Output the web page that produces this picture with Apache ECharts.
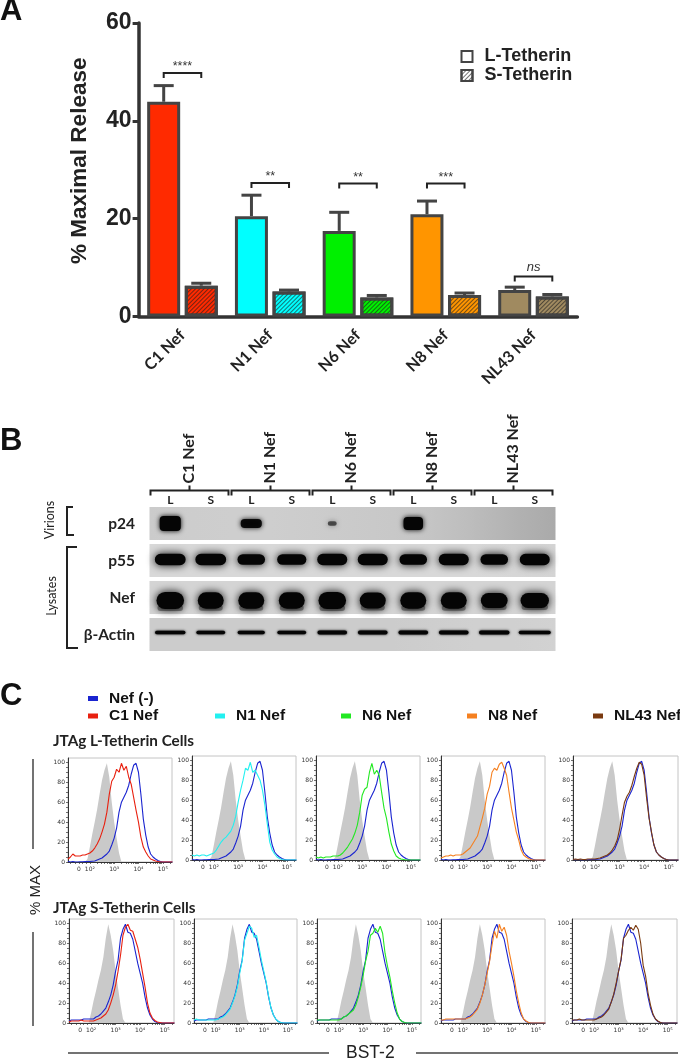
<!DOCTYPE html>
<html><head><meta charset="utf-8">
<style>html,body{margin:0;padding:0;background:#fff}#c{width:680px;height:1059px}</style>
<script src="https://cdn.jsdelivr.net/npm/echarts@6/dist/echarts.min.js"></script>
</head><body><div id="c"></div>
<script>
// ---------- Panel A data ----------
const nefNames = ['C1 Nef','N1 Nef','N6 Nef','N8 Nef','NL43 Nef'];
const barColors = ['#ff2a00','#00ffff','#00f000','#ff9500','#a08a60'];
const lMeans = [43.9,20.5,17.5,20.9,5.4];
const lUpper = [47.2,24.8,21.3,23.6,6.0];
const sMeans = [6.3,5.1,3.9,4.4,4.1];
const sUpper = [6.8,5.4,4.3,4.8,4.5];
const sigLabels = ['****','**','**','***','ns'];
const sigHeights = [49.8,27.3,27.2,27.2,8.2];
const yTicksA = [0,20,40,60];

// ---------- Panel B data ----------
const laneLabels = ['L','S','L','S','L','S','L','S','L','S'];
const blotRows = ['p24','p55','Nef','β-Actin'];
const blotBackground = [
  [203,205,206,206,204,202,200,196,188,178,170],
  [216,216,216,216,216,216,216,216,216,214,212],
  [212,212,212,212,212,212,212,212,212,212,212],
  [204,204,204,204,204,204,204,206,208,208,210]];
const bandIntensity = [
  [1,0,0.95,0,0.6,0,1,0,0,0],
  [1,1,1,1,1,1,1,1,1,1],
  [1,1,1,1,1,1,1,1,1,1],
  [1,1,1,1,1,1,1,1,1,1]];
const bandWidths = [
  [0.62,0,0.62,0,0.32,0,0.58,0,0,0],
  [0.86,0.86,0.78,0.82,0.84,0.84,0.78,0.84,0.78,0.84],
  [0.78,0.74,0.74,0.74,0.78,0.74,0.74,0.74,0.76,0.80],
  [0.80,0.76,0.72,0.76,0.78,0.78,0.78,0.78,0.80,0.84]];
const bandHeights = [
  [0.46,0,0.30,0,0.18,0,0.40,0,0,0],
  [0.36,0.36,0.34,0.34,0.36,0.36,0.34,0.36,0.34,0.36],
  [0.52,0.50,0.50,0.50,0.52,0.48,0.50,0.50,0.46,0.46],
  [0.12,0.12,0.12,0.12,0.14,0.13,0.13,0.13,0.13,0.12]];
const rowBandShift = [0,-1,3,-2];

// ---------- Panel C data ----------
const logBins = [1.1,1.2,1.3,1.4,1.5,1.6,1.7,1.8,1.9,2.0,2.1,2.2,2.3,2.4,2.5,2.6,2.7,2.8,2.9,3.0,3.1,3.2,3.3,3.4,3.5,3.6,3.7,3.8,3.9,4.0,4.1,4.2,4.3,4.4,4.5,4.6,4.7,4.8,4.9,5.0,5.1,5.2,5.3,5.4];
const grayL = [0,0,0,0,0,0,0,0,3, 15,28,40,53,68,82,92,99,85,60,40,24,9,0,0,0,0,0,0,0,0,0,0,0,0,0,0,0,0,0,0,0, 0,0,0];
const grayS = [0,0,0,0,0,0,0,0,0, 10,22,32,43,53,66,85,99,88,73,52,35,18,4,0,0,0,0,0,0,0,0,0,0,0,0,0,0,0,0,0,0, 0,0,0];
const blueL = [0.5,0,0.5,0,0,0.3,0.3,0.4,0.5, 0.5,0.8,1,2,3,4,6,8,11,17,24,34,50,60,65,70,77,88,97,99,90,68,43,27,15,8,5,3,1.5,0.5,0,0, 0,0,0];
const redL  = [3,5,8,6,6,6,7,7,8, 9,11,14,18,23,30,38,50,68,81,85,93,90,99,92,96,85,78,65,52,40,25,15,10,6,3,2,1,0.5,0,0,0, 0,0,0];
const cyanL = [5,4,5,4,5,5,4,5,6, 7,10,14,18,21,23,26,29,35,44,58,70,80,92,90,98,88,90,85,80,70,55,36,18,10,6,3,1.5,0.5,0,0,0, 0,0,0];
const greenL= [3,2,3,2,3,3,3,4,4, 4,5,7,10,13,17,21,27,35,48,65,71,73,88,97,86,90,85,68,52,42,28,16,9,4,2,1,0.5,0,0,0,0, 0,0,0];
const orangeL=[2,3,4,4,5,4,5,5,5, 6,8,10,12,16,20,24,33,42,52,66,74,88,92,90,96,98,92,85,68,52,40,28,20,10,5,3,1.5,0.5,0,0,0, 0,0,0];
const brownL= [0.5,1,0.5,1,0.5,0.5,1,1,1, 1,1.5,2,3,4,5,7,10,14,20,31,45,58,64,68,75,84,92,98,96,85,62,42,28,15,8,5,3,1.5,0.5,0,0, 0,0,0];
const blueS = [2,3,3,3,3,3,4,4,4, 4,4,6,7,9,12,15,21,28,38,52,63,85,94,99,91,90,84,72,60,50,40,26,15,8,4,1.5,0.5,0,0,0,0, 0,0,0];
const redS  = [1,2,2,2,2,3,2,2,2, 2,2,3,4,5,7,9,13,20,28,38,52,68,88,96,99,93,92,84,76,64,50,36,20,10,5,2.5,1,0.5,0,0,0, 0,0,0];
const cyanS = [3,4,3,3,3,3,3,3,3, 3,4,5,6,8,11,14,20,27,36,50,62,83,90,97,95,86,88,76,63,52,41,27,15,8,4,1.5,0.5,0,0,0,0, 0,0,0];
const greenS= [3,3,3,3,3,3,3,3,3, 3,4,6,7,9,11,13,18,26,36,48,62,72,88,90,95,91,97,90,70,57,46,32,20,10,4,1.5,0.5,0,0,0,0, 0,0,0];
const orangeS=[3,3,4,4,4,4,4,4,4, 4,4,5,6,8,11,14,20,28,38,50,62,78,92,85,99,92,96,88,72,60,47,32,20,10,4,2,0.5,0,0,0,0, 0,0,0];
const brownS= [3,3,3,4,3,3,3,3,3, 3,4,5,6,8,11,14,21,29,40,52,64,85,88,93,96,93,98,94,80,58,47,30,18,9,4,2,0.5,0,0,0,0, 0,0,0];
const histNames = ['C1 Nef','N1 Nef','N6 Nef','N8 Nef','NL43 Nef'];
const histColors = ['#e8200f','#22f0f0','#22e822','#f58020','#7a3a10'];
const histRowL = [redL,cyanL,greenL,orangeL,brownL];
const histRowS = [redS,cyanS,greenS,orangeS,brownS];
const histLabelValues = [1.55,2,3,4,5];
const histLabelTexts = {1.55:'0',2:'10²',3:'10³',4:'10⁴',5:'10⁵'};
const histTickValues = [1.2,1.4,1.55,1.7,1.85,2,2.3,2.48,2.6,2.7,2.78,2.85,2.9,2.95,3,3.3,3.48,3.6,3.7,3.78,3.85,3.9,3.95,4,4.3,4.48,4.6,4.7,4.78,4.85,4.9,4.95,5,5.3];
const histYLabels = [0,20,40,60,80,100];
const histYTicks = [0,5,10,15,20,25,30,35,40,45,50,55,60,65,70,75,80,85,90,95,100];

// ---------- layout (not data) ----------
const histBoxesL = [[68,758,104,104],[192,756,104,104],[316,756,104,104],[441,756,104,104],[573,756,105,104]];
const histBoxesS = [[69,919,105,104],[194,919,103,104],[317,919,104,104],[441,919,104,104],[572,919,105,104]];
const blotGrid = {left:150,top:505,width:405,height:148};
const dark = '#444';
const SANS = '"Liberation Sans",Arial,sans-serif';
const CAL = 'Lato,"Open Sans",sans-serif';

const grids = [{left:138.6,top:23,width:438.8,height:293.5}, blotGrid];
const xAxes = [{
  type:'category',gridIndex:0,data:nefNames,
  axisLine:{lineStyle:{color:'#333',width:3.5}},
  axisTick:{alignWithLabel:true,length:7,lineStyle:{color:'#000',width:3}},
  axisLabel:{rotate:45,fontFamily:CAL,fontWeight:'bold',fontSize:16,color:'#222',margin:16,interval:0}
},{
  type:'category',gridIndex:1,position:'top',data:laneLabels,
  axisLine:{show:false},axisTick:{show:false},
  axisLabel:{fontFamily:CAL,fontWeight:'bold',fontSize:12,color:'#222',margin:-1,interval:0}
}];
const yAxes = [{
  type:'value',gridIndex:0,min:0,max:60,interval:20,
  axisLine:{show:true,lineStyle:{color:'#333',width:3.5}},
  axisTick:{show:true,length:6,lineStyle:{color:'#333',width:3}},
  splitLine:{show:false},
  axisLabel:{fontFamily:SANS,fontWeight:'bold',fontSize:23,color:'#222',margin:7,formatter:v=>yTicksA.includes(v)?String(v):''},
  name:'% Maximal Release',nameLocation:'middle',nameGap:47,nameRotate:90,
  nameTextStyle:{fontFamily:SANS,fontWeight:'bold',fontSize:22.5,color:'#222',padding:[0,0,0,18]}
},{
  type:'category',gridIndex:1,inverse:true,data:blotRows,
  axisLine:{show:false},axisTick:{show:false},
  axisLabel:{fontFamily:CAL,fontWeight:'bold',fontSize:15.5,color:'#222',margin:15}
}];

const series = [
  {name:'L-Tetherin',type:'bar',xAxisIndex:0,yAxisIndex:0,barWidth:33,barGap:'14%',z:3,
   itemStyle:{color:'#fff',borderColor:dark,borderWidth:3},
   data:lMeans.map((v,i)=>({value:v,itemStyle:{color:barColors[i],borderColor:dark,borderWidth:3}}))},
  {name:'S-Tetherin',type:'bar',xAxisIndex:0,yAxisIndex:0,barWidth:33,z:3,
   itemStyle:{color:'#fff',borderColor:dark,borderWidth:3,
     decal:{symbol:'rect',symbolSize:1,color:'rgba(30,30,30,0.62)',dashArrayX:[1,0],dashArrayY:[1,1.5],rotation:-Math.PI/4}},
   data:sMeans.map((v,i)=>({value:v,itemStyle:{color:barColors[i],borderColor:dark,borderWidth:3}}))},
  // error bars
  {type:'custom',xAxisIndex:0,yAxisIndex:0,z:2,silent:true,
   data:nefNames.flatMap((n,i)=>[[i,lMeans[i],lUpper[i],-1],[i,sMeans[i],sUpper[i],1]]),
   renderItem(p,api){
     const band=api.size([1,0])[0], off=band*0.214*api.value(3);
     const c=api.coord([api.value(0),api.value(1)]), u=api.coord([api.value(0),api.value(2)]);
     const x=c[0]+off, ls={stroke:dark,lineWidth:3,fill:null};
     return {type:'group',children:[
       {type:'line',shape:{x1:x,y1:c[1],x2:x,y2:u[1]},style:ls},
       {type:'line',shape:{x1:x-10,y1:u[1],x2:x+10,y2:u[1]},style:ls}]};
   }},
  // significance brackets
  {type:'custom',xAxisIndex:0,yAxisIndex:0,z:4,silent:true,
   data:sigHeights.map((h,i)=>[i,h]),
   renderItem(p,api){
     const i=api.value(0), c=api.coord([i,api.value(1)]), band=api.size([1,0])[0], off=band*0.214;
     const l=c[0]-off, r=c[0]+off, y=c[1];
     const ns=sigLabels[i]==='ns';
     return {type:'group',children:[
       {type:'polyline',shape:{points:[[l,y+5],[l,y],[r,y],[r,y+5]]},style:{stroke:'#222',lineWidth:2,fill:null}},
       {type:'text',x:c[0],y:ns?y-9:y-6,style:{text:sigLabels[i],textAlign:'center',textVerticalAlign:'middle',
         font:(ns?'italic 13px ':'12.5px ')+SANS,fill:'#333'}}]};
   }},
  // blot backgrounds
  {type:'custom',xAxisIndex:1,yAxisIndex:1,z:1,silent:true,clip:false,
   data:blotBackground.flatMap((r,ri)=>r.slice(0,10).map((g,li)=>[li,ri,g,r[li+1]])),
   renderItem(p,api){
     const c=api.coord([api.value(0),api.value(1)]), s=api.size([1,1]), g=api.value(2), g2=api.value(3);
     return {type:'rect',shape:{x:c[0]-s[0]/2-0.5,y:c[1]-16.5,width:s[0]+1,height:33},
       style:{fill:new echarts.graphic.LinearGradient(0,0,1,0,[
         {offset:0,color:`rgb(${g},${g},${g})`},{offset:1,color:`rgb(${g2},${g2},${g2})`}])}};
   }},
  // blot bands
  {type:'custom',xAxisIndex:1,yAxisIndex:1,z:2,silent:true,
   data:bandIntensity.flatMap((r,ri)=>r.map((a,li)=>[li,ri,a,bandWidths[ri][li],bandHeights[ri][li]])).filter(d=>d[2]>0),
   renderItem(p,api){
     const ri=api.value(1), c=api.coord([api.value(0),ri]), s=api.size([1,1]);
     const w=s[0]*api.value(3), h=s[1]*api.value(4), a=api.value(2);
     const soft=ri===3?2.5:(ri===0?5:8), inset=ri===3?1:2;
     const kids=[{type:'rect',shape:{x:c[0]-w/2+inset,y:c[1]-h/2+rowBandShift[ri]+inset/2,width:w-inset*2,height:h-inset,r:ri===0?Math.min(h/2,4):h/2},
       style:{fill:`rgba(5,5,5,${a})`,shadowBlur:soft,shadowColor:`rgba(0,0,0,${a})`}}];
     if(ri===2) kids.unshift({type:'rect',shape:{x:c[0]-w/2+3,y:c[1]+h/2-2,width:w-6,height:6,r:3},
       style:{fill:'rgba(70,70,70,0.55)',shadowBlur:6,shadowColor:'rgba(70,70,70,0.6)'}});
     return {type:'group',children:kids};
   }},
  // lane group brackets and labels
  {type:'custom',xAxisIndex:1,yAxisIndex:1,z:3,silent:true,clip:false,
   data:nefNames.map((n,i)=>[i*2,0,i]),
   renderItem(p,api){
     const a=api.coord([api.value(0),0]), b=api.coord([api.value(0)+1,0]), s=api.size([1,1]);
     const l=a[0]-s[0]/2+0.5, r=b[0]+s[0]/2-2.5, m=(l+r)/2, top=p.coordSys.y-14.5;
     const st={stroke:'#222',lineWidth:2,fill:null};
     return {type:'group',children:[
       {type:'polyline',shape:{points:[[l,top+5],[l,top],[r,top],[r,top+5]]},style:st},
       {type:'line',shape:{x1:m,y1:top,x2:m,y2:top-5},style:st},
       {type:'text',x:m-1,y:top-7,rotation:Math.PI/2,style:{text:nefNames[api.value(2)],textAlign:'left',textVerticalAlign:'middle',
         font:'bold 16px '+CAL,fill:'#222'}}]};
   }}
];

function addHist(box,row,blue,gray,panel){
  const gi=grids.length;
  grids.push({left:box[0],top:box[1],width:box[2],height:box[3],show:true,borderColor:'#c4c4c4',borderWidth:1,backgroundColor:'#fff'});
  xAxes.push({type:'value',gridIndex:gi,min:1.1,max:5.38,splitLine:{show:false},
    axisLine:{lineStyle:{color:'#333',width:1}},
    axisTick:{length:2,lineStyle:{color:'#333',width:0.7},customValues:histTickValues},
    axisLabel:{customValues:histLabelValues,fontSize:6,color:'#333',margin:4,fontFamily:'"DejaVu Sans",sans-serif',
      formatter:v=>histLabelTexts[v]||''}});
  yAxes.push({type:'value',gridIndex:gi,min:0,max:104.3,splitLine:{show:false},
    axisLine:{show:true,lineStyle:{color:'#333',width:1}},
    axisTick:{show:true,length:2,lineStyle:{color:'#333',width:0.7},customValues:histYTicks},
    axisLabel:{customValues:histYLabels,fontSize:6,color:'#333',margin:3,fontFamily:'"DejaVu Sans",sans-serif'}});
  const mk=a=>logBins.map((x,i)=>[x,a[i]]);
  series.push({type:'line',xAxisIndex:gi,yAxisIndex:gi,data:mk(gray),showSymbol:false,silent:true,z:1,
    lineStyle:{width:0},areaStyle:{color:'#c9c9c9',opacity:1},itemStyle:{color:'#c9c9c9'}});
  series.push({name:'Nef (-)',type:'line',xAxisIndex:gi,yAxisIndex:gi,data:mk(blue),showSymbol:false,silent:true,z:2,
    color:'#1a24d0',lineStyle:{width:1.1,color:'#1a24d0'},itemStyle:{color:'#1a24d0'}});
  series.push({name:histNames[panel],type:'line',xAxisIndex:gi,yAxisIndex:gi,data:mk(row[panel]),showSymbol:false,silent:true,z:3,
    color:histColors[panel],lineStyle:{width:1.1,color:histColors[panel]},itemStyle:{color:histColors[panel]}});
}
histBoxesL.forEach((b,i)=>addHist(b,histRowL,blueL,grayL,i));
histBoxesS.forEach((b,i)=>addHist(b,histRowS,blueS,grayS,i));

const histLegend=(name,left,top)=>({data:[name],left,top,icon:'rect',itemWidth:10,itemHeight:5,selectedMode:false,padding:0,
  textStyle:{fontFamily:SANS,fontWeight:'bold',fontSize:15.5,color:'#111',padding:[0,0,0,6]}});
const legends=[
  {data:['L-Tetherin','S-Tetherin'],left:460.5,top:47.5,orient:'vertical',icon:'rect',itemWidth:11,itemHeight:11,itemGap:1,selectedMode:false,padding:0,
   textStyle:{fontFamily:SANS,fontWeight:'bold',fontSize:18,color:'#222',padding:[0,0,0,7]}},
  histLegend('Nef (-)',88,690.5),
  histLegend('C1 Nef',88,708),
  histLegend('N1 Nef',215,708),
  histLegend('N6 Nef',341,708),
  histLegend('N8 Nef',467,708),
  histLegend('NL43 Nef',593,708)
];

const letter=(t,left,top)=>({text:t,left,top,padding:0,textStyle:{fontFamily:SANS,fontWeight:'bold',fontSize:31,color:'#111'}});
const heading=(t,left,top)=>({text:t,left,top,padding:0,textStyle:{fontFamily:CAL,fontWeight:'bold',fontSize:15.3,color:'#222'}});
const titles=[letter('A',0,-4),letter('B',0,426),letter('C',0,681),
  heading('JTAg L-Tetherin Cells',53,734),heading('JTAg S-Tetherin Cells',53,901),
  {text:'BST-2',left:346,top:1044,padding:0,textStyle:{fontFamily:SANS,fontWeight:'normal',fontSize:17.5,color:'#222'}}];

const vText=(t,x,y,font,fill)=>({type:'text',x,y,rotation:Math.PI/2,style:{text:t,textAlign:'center',textVerticalAlign:'middle',font,fill:fill||'#222'}});
const ln=(x1,y1,x2,y2,w,c)=>({type:'line',shape:{x1,y1,x2,y2},style:{stroke:c||'#444',lineWidth:w||1.5}});
const graphics=[
  vText('Virions',50,520,'12.5px '+CAL),
  vText('Lysates',52,596,'12.5px '+CAL),
  {type:'polyline',shape:{points:[[73,507],[67,507],[67,535],[74,535]]},style:{stroke:'#222',lineWidth:2,fill:null}},
  {type:'polyline',shape:{points:[[77,547],[67,547],[67,648],[78,648]]},style:{stroke:'#222',lineWidth:2,fill:null}},
  vText('% MAX',36,890,'15px '+SANS),
  ln(33,759,33,849),ln(33,932,33,1026),
  ln(68,1053,329,1053),ln(416,1053,678,1053)
];

const chart=echarts.init(document.getElementById('c'),null,{renderer:'canvas'});
chart.setOption({animation:false,backgroundColor:'#fff',title:titles,legend:legends,tooltip:{show:false},
  grid:grids,xAxis:xAxes,yAxis:yAxes,series,graphic:graphics});
</script></body></html>
